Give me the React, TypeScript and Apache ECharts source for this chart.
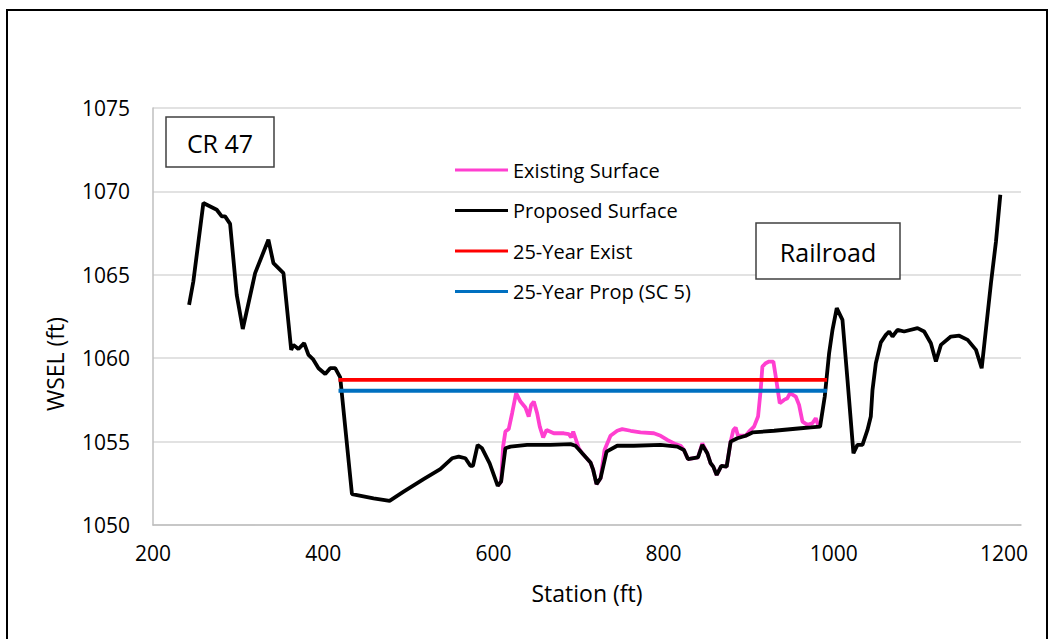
import React, { useEffect, useRef } from "react";
import * as echarts from "echarts";

// Proposed ground profile (station ft, elevation ft)
const proposedStation = [
  242.4, 247.4, 259.2, 263.2, 274.9, 280.8, 284.7, 290.6, 298.4, 305.5,
  320, 335.6, 341.5, 353.3, 362.4, 365, 370.9, 377.6, 382.7, 387.9,
  394.5, 402.4, 408.2, 414.1, 420, 433.8, 459.2, 478, 494.5, 518,
  537.6, 551.4, 559.2, 567.1, 572.9, 576, 581.5, 586.7, 595.6, 601.2,
  605.1, 609.1, 614.1, 620, 639.6, 667, 690.6, 696.5, 704.4, 714.1,
  717.3, 721.2, 725.9, 733, 745.5, 765, 796.5, 816.1, 823.9, 828.6,
  840.4, 845.5, 851.4, 855.3, 858.4, 862.4, 867.9, 874.1, 878.8, 886.7,
  896.5, 904.4, 929.8, 961.2, 972.9, 983.9, 989.4, 994.5, 998.5, 1003.5,
  1010.2, 1016.1, 1023.1, 1027.8, 1033.7, 1039.6, 1043.5, 1045.5, 1049.4, 1055.3,
  1061.2, 1065.1, 1069, 1074.9, 1082.7, 1098.4, 1106.2, 1114.1, 1120, 1125.9,
  1137.6, 1147.4, 1157.3, 1167.1, 1173.8, 1184.7, 1190.6, 1195.7,
];
const proposedElev = [
  1063.2, 1064.6, 1069.3, 1069.2, 1068.9, 1068.5, 1068.5, 1068.05, 1063.8, 1061.75,
  1065.1, 1067.1, 1065.7, 1065.1, 1060.5, 1060.8, 1060.55, 1060.9, 1060.2, 1059.95,
  1059.4, 1059.05, 1059.4, 1059.4, 1058.85, 1051.85, 1051.6, 1051.45, 1052.0, 1052.75,
  1053.35, 1054.0, 1054.1, 1054.0, 1053.55, 1053.55, 1054.8, 1054.6, 1053.7, 1052.9,
  1052.35, 1052.6, 1054.6, 1054.7, 1054.8, 1054.8, 1054.85, 1054.75, 1054.3, 1053.75,
  1053.3, 1052.45, 1052.8, 1054.4, 1054.75, 1054.75, 1054.8, 1054.7, 1054.5, 1053.95,
  1054.05, 1054.8, 1054.3, 1053.7, 1053.5, 1053.0, 1053.55, 1053.5, 1055.0, 1055.2,
  1055.35, 1055.55, 1055.65, 1055.8, 1055.85, 1055.9, 1057.7, 1060.3, 1061.7, 1063.0,
  1062.3, 1058.7, 1054.3, 1054.8, 1054.8, 1055.7, 1056.5, 1058.1, 1059.7, 1060.95,
  1061.4, 1061.6, 1061.3, 1061.7, 1061.6, 1061.8, 1061.6, 1060.9, 1059.8, 1060.8,
  1061.3, 1061.35, 1061.1, 1060.5, 1059.4, 1064.5, 1067.0, 1069.8,
];

// Existing ground profile through the channel reach
const existingStation = [
  605.1, 609.1, 611.4, 614.1, 618, 622, 626.7, 631.8, 637.6, 641.5,
  644.4, 647.5, 651.4, 654.5, 658.5, 662.4, 671, 682.7, 688.6, 691.4,
  693.8, 696.5, 700.4, 704.4, 714.1, 717.3, 721.2, 725.9, 730.6, 737.6,
  745.5, 751.4, 761.2, 772.9, 788.6, 796.5, 804.4, 814.1, 820, 823.9,
  828.6, 840.4, 845.5, 851.4, 855.3, 858.4, 862.4, 867.9, 874.1, 878.8,
  882, 884.7, 887.4, 896.5, 900.4, 906.3, 911, 914.1, 916.1, 920,
  923.9, 929, 931.8, 936.5, 941.5, 945.5, 948.6, 955.3, 959.2, 963.2,
  969, 974.9, 978.8, 981.6, 983.9,
];
const existingElev = [
  1052.35, 1052.6, 1054.7, 1055.6, 1055.75, 1056.7, 1057.9, 1057.4, 1057.05, 1056.5,
  1057.2, 1057.4, 1056.7, 1055.9, 1055.25, 1055.7, 1055.5, 1055.5, 1055.45, 1055.25,
  1055.6, 1055.2, 1054.6, 1054.3, 1053.75, 1053.3, 1052.45, 1052.8, 1054.5, 1055.35,
  1055.65, 1055.75, 1055.65, 1055.55, 1055.5, 1055.35, 1055.1, 1054.85, 1054.75, 1054.5,
  1053.95, 1054.05, 1054.9, 1054.3, 1053.7, 1053.5, 1053.0, 1053.55, 1053.5, 1055.0,
  1055.7, 1055.85, 1055.35, 1055.35, 1055.6, 1055.9, 1056.5, 1058.1, 1059.5, 1059.7,
  1059.8, 1059.8, 1058.9, 1057.3, 1057.5, 1057.6, 1057.9, 1057.7, 1057.2, 1056.2,
  1056.0, 1056.1, 1056.4, 1056.0, 1055.9,
];

// 25-year water surface elevations across the crossing
const wseStation = [418, 992];
const wseExistElev = [1058.7, 1058.7];
const wsePropElev = [1058.05, 1058.05];

const seriesNames = [
  "Existing Surface",
  "Proposed Surface",
  "25-Year Exist",
  "25-Year Prop (SC 5)",
];
const seriesColors = ["#FF3FD0", "#000000", "#FF0000", "#0070C0"];

const xTicks = [200, 400, 600, 800, 1000, 1200];
const yTicks = [1050, 1055, 1060, 1065, 1070, 1075];

const FONT = "'Open Sans', 'Noto Sans', sans-serif";

const zip = (xs: number[], ys: number[]) => xs.map((x, i) => [x, ys[i]]);

export default function App() {
  const ref = useRef<HTMLDivElement>(null);

  useEffect(() => {
    if (!ref.current) return;
    const chart = echarts.init(ref.current, undefined, { renderer: "svg" });
    const lines = [
      zip(existingStation, existingElev),
      zip(proposedStation, proposedElev),
      zip(wseStation, wseExistElev),
      zip(wseStation, wsePropElev),
    ];
    chart.setOption({
      animation: false,
      backgroundColor: "#ffffff",
      textStyle: { fontFamily: FONT },
      grid: { left: 153, top: 108, right: 29, bottom: 114 },
      legend: {
        orient: "vertical",
        left: 450,
        top: 154,
        icon: "rect",
        itemWidth: 53,
        itemHeight: 3,
        itemGap: 18.5,
        data: seriesNames,
        textStyle: { fontSize: 20, color: "#000", fontFamily: FONT, lineHeight: 22 },
      },
      xAxis: {
        type: "value",
        min: xTicks[0],
        max: 1220,
        interval: 200,
        name: "Station (ft)",
        nameLocation: "middle",
        nameGap: 56,
        nameTextStyle: { fontSize: 23, color: "#000", fontFamily: FONT },
        axisLine: { show: true, lineStyle: { color: "#bfbfbf", width: 1.5 } },
        axisTick: { show: false },
        splitLine: { show: false },
        axisLabel: {
          fontSize: 21,
          color: "#000",
          margin: 17,
          fontFamily: FONT,
          formatter: (v: number) => (xTicks.includes(v) ? String(v) : ""),
        },
      },
      yAxis: {
        type: "value",
        min: yTicks[0],
        max: yTicks[yTicks.length - 1],
        interval: 5,
        axisLine: { show: true, lineStyle: { color: "#bfbfbf", width: 1.5 } },
        axisTick: { show: false },
        splitLine: { show: true, lineStyle: { color: "#d9d9d9", width: 1.5 } },
        axisLabel: {
          fontSize: 21,
          color: "#000",
          margin: 23,
          fontFamily: FONT,
          formatter: (v: number) => String(v),
        },
      },
      series: seriesNames.map((name, i) => ({
        name,
        type: "line",
        data: lines[i],
        showSymbol: false,
        symbol: "none",
        z: i === 0 ? 2 : 3 + i,
        lineStyle: { color: seriesColors[i], width: 3.8 },
        itemStyle: { color: seriesColors[i] },
      })),
      graphic: [
        {
          type: "rect",
          shape: { x: 7, y: 10, width: 1040, height: 640 },
          style: { fill: "none", stroke: "#000", lineWidth: 2 },
          silent: true,
        },
        {
          type: "rect",
          shape: { x: 166, y: 117, width: 108, height: 50 },
          style: { fill: "#fff", stroke: "#404040", lineWidth: 1.5 },
          z: 10,
        },
        {
          type: "text",
          x: 220,
          y: 143,
          z: 11,
          style: {
            text: "CR 47",
            fontSize: 25,
            fontFamily: FONT,
            fill: "#000",
            align: "center",
            verticalAlign: "middle",
          },
        },
        {
          type: "rect",
          shape: { x: 756, y: 223, width: 144, height: 56 },
          style: { fill: "#fff", stroke: "#404040", lineWidth: 1.5 },
          z: 10,
        },
        {
          type: "text",
          x: 828,
          y: 252,
          z: 11,
          style: {
            text: "Railroad",
            fontSize: 25,
            fontFamily: FONT,
            fill: "#000",
            align: "center",
            verticalAlign: "middle",
          },
        },
        {
          type: "text",
          x: 55,
          y: 364,
          rotation: Math.PI / 2,
          style: {
            text: "WSEL (ft)",
            fontSize: 23,
            fontFamily: FONT,
            fill: "#000",
            align: "center",
            verticalAlign: "middle",
          },
        },
      ],
    });
    return () => chart.dispose();
  }, []);

  return (
    <div
      ref={ref}
      style={{ position: "absolute", left: 0, top: 0, width: 1050, height: 639 }}
    />
  );
}
